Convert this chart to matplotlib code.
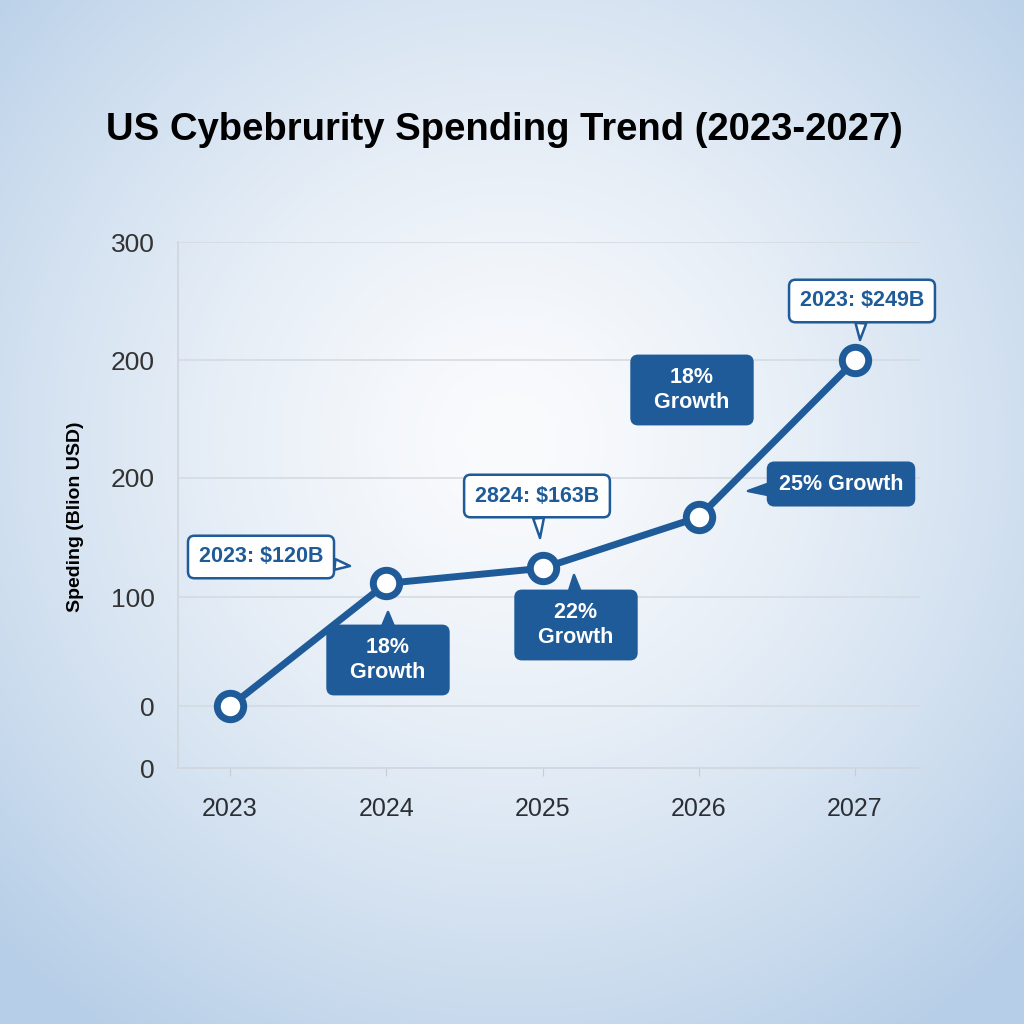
import numpy as np
import matplotlib
matplotlib.use('Agg')
import matplotlib.pyplot as plt
import matplotlib.colors as mcolors

# data (y in the chart's own axis units)
years = [2023, 2024, 2025, 2026, 2027]
spending = [0, 106, 119, 163, 298]
ytick_pos = [-53, 0, 94, 197, 298, 400]
ytick_labels = ['0', '0', '100', '200', '200', '300']

title = 'US Cybebrurity Spending Trend (2023-2027)'
ylabel = 'Speding (Blion USD)'

value_notes = ['2023: $120B', '2824: $163B', '2023: $249B']
growth_notes = ['18%\nGrowth', '22%\nGrowth', '18%\nGrowth', '25% Growth']

BLUE = '#1f5b98'
W, H = 1024, 1024

plt.rcParams['font.family'] = ['Liberation Sans', 'DejaVu Sans']

fig = plt.figure(figsize=(10.24, 10.24), dpi=100)

# radial background gradient
bg = fig.add_axes([0, 0, 1, 1], zorder=-10)
yy, xx = np.mgrid[0:H, 0:W]
r = np.hypot(xx - 510, yy - 440) / 720
t = np.clip(r, 0, 1) ** 1.4
c0 = np.array(mcolors.to_rgb('#fafbfd'))
c1 = np.array(mcolors.to_rgb('#b6cee7'))
img = c0 + (c1 - c0) * t[..., None]
bg.imshow(img, aspect='auto', extent=[0, W, H, 0])
bg.set_axis_off()

ax = fig.add_axes([178 / W, 1 - 768 / H, 742 / W, 526 / H])
ax.set_facecolor('none')
ax.set_xlim(2022.667, 2027.416)
ax.set_ylim(-53, 400)

ax.plot(years, spending, color=BLUE, lw=5, solid_capstyle='round', zorder=3,
        marker='o', ms=19, mfc='white', mec=BLUE, mew=5)

ax.set_yticks(ytick_pos[1:])
ax.set_yticklabels(ytick_labels[1:])
ax.yaxis.set_minor_locator(matplotlib.ticker.FixedLocator(ytick_pos[:1]))
ax.yaxis.set_minor_formatter(matplotlib.ticker.FixedFormatter(ytick_labels[:1]))
ax.tick_params(axis='y', which='both', length=0, pad=17, labelsize=19, labelcolor='#333333')
ax.grid(axis='y', color='#d3d9e0', lw=1.1)
ax.set_xticks(years)
ax.set_xticklabels([str(y) for y in years])
ax.tick_params(axis='x', length=6, color='#c8cdd3', pad=15, labelsize=18, labelcolor='#2b2f35')

for s in ['top', 'right']:
    ax.spines[s].set_visible(False)
for s in ['left', 'bottom']:
    ax.spines[s].set_color('#cfd5dc')
    ax.spines[s].set_linewidth(1.2)

fig.text(504 / W, 1 - 130 / H, title, ha='center', va='center', fontsize=27.5,
         fontweight='bold', color='black')
fig.text(75 / W, 1 - 517 / H, ylabel, ha='center', va='center', rotation=90,
         fontsize=14, fontweight='bold', color='black')


def callout(text, center, tip, dark):
    face = BLUE if dark else 'white'
    tcol = 'white' if dark else BLUE
    xy = (center[0], H - center[1])
    arrow = None
    if tip is not None:
        arrow = dict(arrowstyle='wedge,tail_width=0.5', fc=face, ec=BLUE, lw=1.8,
                     shrinkA=0, shrinkB=0)
    ax.annotate(text, xy=(tip[0], H - tip[1]) if tip else xy, xycoords='figure pixels',
                xytext=xy, textcoords='figure pixels', ha='center', va='center',
                fontsize=15.5, fontweight='bold', color=tcol, linespacing=1.3,
                bbox=dict(boxstyle='round,pad=0.5,rounding_size=0.3', fc=face,
                          ec=BLUE, lw=1.8),
                arrowprops=arrow, zorder=5, annotation_clip=False)


value_places = [((261, 557), (350, 566)), ((537, 496), (540, 538)), ((862, 301), (860, 340))]
for txt, (c, tp) in zip(value_notes, value_places):
    callout(txt, c, tp, False)

growth_places = [((388, 660), (388, 612)), ((576, 625), (574, 575)),
                 ((692, 390), None), ((841, 484), (748, 491))]
for txt, (c, tp) in zip(growth_notes, growth_places):
    callout('  ' + txt.replace('\n', '  \n  ') + '  ' if '\n' in txt else txt, c, tp, True)

fig.savefig('out.png', dpi=100)
